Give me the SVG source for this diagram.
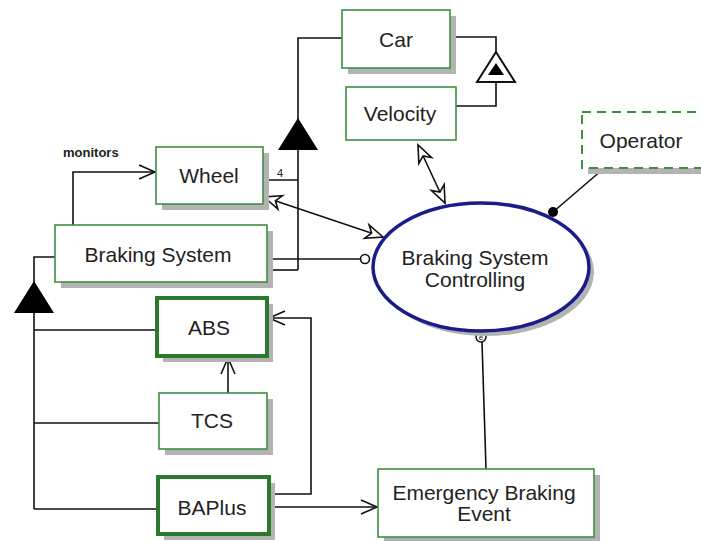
<svg xmlns="http://www.w3.org/2000/svg" width="701" height="541" viewBox="0 0 701 541">
  <style>
    .shadow { fill: #b3b3b3; }
    .box { fill: #ffffff; stroke: #3f8f3f; stroke-width: 1.6; }
    .box.strong { stroke: #2b7a2b; stroke-width: 4; }
    .box.dashed { stroke: #3f8f3f; stroke-width: 2; stroke-dasharray: 9 6; }
    .label { font-family: "Liberation Sans", Arial, sans-serif; font-size: 21px; fill: #222; text-anchor: middle; }
    .small { font-family: "Liberation Sans", Arial, sans-serif; font-size: 13px; font-weight: bold; fill: #222; }
    .tiny { font-family: "Liberation Sans", Arial, sans-serif; font-size: 11px; fill: #222; }
    .line { fill: none; stroke: #111; stroke-width: 1.6; }
  </style>
  <defs>
    <marker id="open" markerUnits="userSpaceOnUse" markerWidth="20" markerHeight="20" refX="0" refY="0" viewBox="-18 -9 20 18" orient="auto">
      <path d="M-16,-7 L0,0 L-16,7" fill="none" stroke="#111" stroke-width="1.6"/>
    </marker>
    <marker id="hollow" markerUnits="userSpaceOnUse" markerWidth="22" markerHeight="22" refX="0" refY="0" viewBox="-20 -10 22 20" orient="auto-start-reverse">
      <path d="M0,0 L-17,-7 L-12,0 L-17,7 Z" fill="#fff" stroke="#111" stroke-width="1.6"/>
    </marker>
  </defs>

  <rect width="701" height="541" fill="#ffffff"/>

  <!-- connectors -->
  <g id="connectors">
    <!-- Car generalisation (left) -->
    <path class="line" d="M342,38 H298 V120"/>
    <polygon points="298,118 278,150 318,150" fill="#000"/>
    <path class="line" d="M298,150 V270"/>
    <path class="line" d="M265,180 H298"/>
    <path class="line" d="M267,270 H298"/>
    <text class="tiny" x="277" y="177">4</text>

    <!-- Car / Velocity -->
    <path class="line" d="M450,37 H496 V52"/>
    <path class="line" d="M456,106 H496 V82"/>
    <polygon points="496,52 477,82 515,82" fill="#fff" stroke="#111" stroke-width="2"/>
    <polygon points="496,63 488,75 504,75" fill="#000"/>

    <!-- Braking System generalisation -->
    <path class="line" d="M55,257 H34 V283"/>
    <polygon points="34,281 14,313 54,313" fill="#000"/>
    <path class="line" d="M34,313 V509"/>
    <path class="line" d="M34,330 H157"/>
    <path class="line" d="M34,423 H159"/>
    <path class="line" d="M34,509 H158"/>

    <!-- monitors -->
    <path class="line" d="M73,225 V172 H155" marker-end="url(#open)"/>
    <text class="small" x="63" y="157">monitors</text>

    <!-- TCS to ABS -->
    <path class="line" d="M228,393 V358" marker-end="url(#open)"/>

    <!-- BAPlus to ABS -->
    <path class="line" d="M270,494 H311 V318 H269" marker-end="url(#open)"/>

    <!-- BAPlus to Emergency Braking Event -->
    <path class="line" d="M271,507 H377" marker-end="url(#open)"/>

    <!-- Wheel <-> controlling -->
    <path class="line" d="M264,197 L383,237" marker-start="url(#hollow)" marker-end="url(#hollow)"/>

    <!-- Velocity <-> controlling -->
    <path class="line" d="M418,145 L445,203" marker-start="url(#hollow)" marker-end="url(#hollow)"/>

    <!-- Braking System lollipop -->
    <path class="line" d="M267,259 H361"/>
    <circle cx="365" cy="259" r="4.5" fill="#fff" stroke="#111" stroke-width="1.6"/>

    <!-- Operator -->
    <path class="line" d="M602,170 L553,212"/>
    <circle cx="553" cy="212" r="5" fill="#000"/>

    <!-- event link -->
    <path class="line" d="M482,342 L486,469"/>
    <circle cx="481" cy="337" r="5" fill="#fff" stroke="#111" stroke-width="1.5"/>
    <text x="481" y="340" font-family="Liberation Sans, Arial, sans-serif" font-size="8" text-anchor="middle" fill="#111">e</text>
  </g>

  <!-- nodes -->
  <g id="car">
    <rect class="shadow" x="348" y="16" width="108" height="58"/>
    <rect class="box" x="342" y="10" width="108" height="58"/>
    <text class="label" x="396" y="47">Car</text>
  </g>

  <g id="velocity">
    <rect class="box" x="346" y="87" width="110" height="53"/>
    <text class="label" x="400" y="121">Velocity</text>
  </g>

  <g id="wheel">
    <rect class="shadow" x="162" y="153" width="107" height="57"/>
    <rect class="box" x="156" y="147" width="107" height="57"/>
    <text class="label" x="209" y="183">Wheel</text>
  </g>

  <g id="braking-system">
    <rect class="shadow" x="61" y="231" width="212" height="57"/>
    <rect class="box" x="55" y="225" width="212" height="57"/>
    <text class="label" x="158" y="262">Braking System</text>
  </g>

  <g id="abs">
    <rect class="shadow" x="163" y="304" width="110" height="58"/>
    <rect class="box strong" x="157" y="298" width="110" height="58"/>
    <text class="label" x="209" y="335">ABS</text>
  </g>

  <g id="tcs">
    <rect class="shadow" x="165" y="399" width="108" height="56"/>
    <rect class="box" x="159" y="393" width="108" height="56"/>
    <text class="label" x="212" y="428">TCS</text>
  </g>

  <g id="baplus">
    <rect class="shadow" x="164" y="483" width="111" height="57"/>
    <rect class="box strong" x="158" y="477" width="111" height="57"/>
    <text class="label" x="212" y="515">BAPlus</text>
  </g>

  <g id="operator">
    <rect class="shadow" x="588" y="118" width="130" height="56"/>
    <rect class="box dashed" x="582" y="112" width="130" height="56"/>
    <text class="label" x="641" y="148">Operator</text>
  </g>

  <g id="braking-system-controlling">
    <ellipse cx="486" cy="272" rx="108" ry="64" fill="#b3b3b3"/>
    <ellipse cx="481" cy="267" rx="108" ry="64" fill="#fff" stroke="#1b1b8a" stroke-width="3.5"/>
    <text class="label" x="475" y="265">Braking System</text>
    <text class="label" x="475" y="287">Controlling</text>
  </g>

  <g id="emergency-braking-event">
    <rect class="shadow" x="384" y="475" width="216" height="68"/>
    <rect class="box" x="378" y="469" width="216" height="68"/>
    <text class="label" x="484" y="500">Emergency Braking</text>
    <text class="label" x="484" y="521">Event</text>
  </g>
</svg>
